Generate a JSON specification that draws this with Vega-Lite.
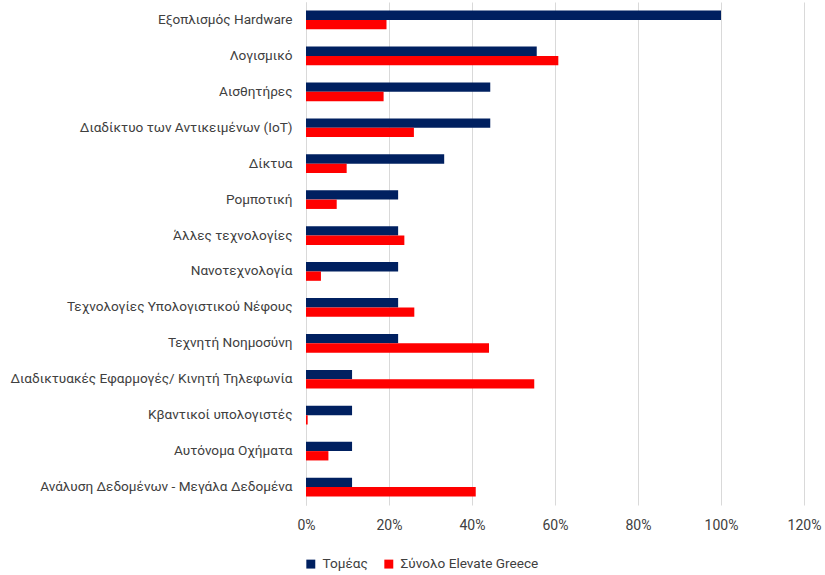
{
  "$schema": "https://vega.github.io/schema/vega-lite/v6.json",
  "width": 498,
  "height": 503,
  "autosize": {"type": "none"},
  "padding": {"left": 306, "top": 2, "right": 21, "bottom": 70},
  "background": "white",
  "config": {
    "view": {"stroke": null},
    "font": "Roboto",
    "axis": {"labelFont": "Roboto", "labelColor": "#404040"},
    "legend": {"labelFont": "Roboto", "labelColor": "#404040"}
  },
  "data": {
    "values": [
      {"category": "Εξοπλισμός Hardware", "series": "Τομέας", "value": 1.0},
      {"category": "Εξοπλισμός Hardware", "series": "Σύνολο Elevate Greece", "value": 0.194},
      {"category": "Λογισμικό", "series": "Τομέας", "value": 0.556},
      {"category": "Λογισμικό", "series": "Σύνολο Elevate Greece", "value": 0.608},
      {"category": "Αισθητήρες", "series": "Τομέας", "value": 0.444},
      {"category": "Αισθητήρες", "series": "Σύνολο Elevate Greece", "value": 0.187},
      {"category": "Διαδίκτυο των Αντικειμένων (IoT)", "series": "Τομέας", "value": 0.444},
      {"category": "Διαδίκτυο των Αντικειμένων (IoT)", "series": "Σύνολο Elevate Greece", "value": 0.26},
      {"category": "Δίκτυα ", "series": "Τομέας", "value": 0.333},
      {"category": "Δίκτυα ", "series": "Σύνολο Elevate Greece", "value": 0.098},
      {"category": "Ρομποτική", "series": "Τομέας", "value": 0.222},
      {"category": "Ρομποτική", "series": "Σύνολο Elevate Greece", "value": 0.074},
      {"category": "Άλλες τεχνολογίες", "series": "Τομέας", "value": 0.222},
      {"category": "Άλλες τεχνολογίες", "series": "Σύνολο Elevate Greece", "value": 0.237},
      {"category": "Νανοτεχνολογία", "series": "Τομέας", "value": 0.222},
      {"category": "Νανοτεχνολογία", "series": "Σύνολο Elevate Greece", "value": 0.036},
      {"category": "Τεχνολογίες Υπολογιστικού Νέφους", "series": "Τομέας", "value": 0.222},
      {"category": "Τεχνολογίες Υπολογιστικού Νέφους", "series": "Σύνολο Elevate Greece", "value": 0.261},
      {"category": "Τεχνητή Νοημοσύνη", "series": "Τομέας", "value": 0.222},
      {"category": "Τεχνητή Νοημοσύνη", "series": "Σύνολο Elevate Greece", "value": 0.441},
      {"category": "Διαδικτυακές Εφαρμογές/ Κινητή Τηλεφωνία", "series": "Τομέας", "value": 0.111},
      {"category": "Διαδικτυακές Εφαρμογές/ Κινητή Τηλεφωνία", "series": "Σύνολο Elevate Greece", "value": 0.55},
      {"category": "Κβαντικοί υπολογιστές", "series": "Τομέας", "value": 0.111},
      {"category": "Κβαντικοί υπολογιστές", "series": "Σύνολο Elevate Greece", "value": 0.004},
      {"category": "Αυτόνομα Οχήματα", "series": "Τομέας", "value": 0.111},
      {"category": "Αυτόνομα Οχήματα", "series": "Σύνολο Elevate Greece", "value": 0.054},
      {"category": "Ανάλυση Δεδομένων - Μεγάλα Δεδομένα", "series": "Τομέας", "value": 0.111},
      {"category": "Ανάλυση Δεδομένων - Μεγάλα Δεδομένα", "series": "Σύνολο Elevate Greece", "value": 0.409}
    ]
  },
  "mark": {"type": "bar", "orient": "horizontal"},
  "encoding": {
    "y": {
      "field": "category",
      "type": "nominal",
      "sort": null,
      "scale": {"paddingInner": 0.48, "paddingOuter": 0.24},
      "axis": {
        "title": null,
        "ticks": false,
        "labelPadding": 14,
        "labelFontSize": 13.6,
        "labelLimit": 400,
        "domainColor": "#d9d9d9",
        "grid": false
      }
    },
    "yOffset": {
      "field": "series",
      "type": "nominal",
      "sort": ["Τομέας", "Σύνολο Elevate Greece"],
      "scale": {"paddingInner": 0, "paddingOuter": 0}
    },
    "x": {
      "field": "value",
      "type": "quantitative",
      "scale": {"domain": [0, 1.2], "nice": false},
      "axis": {
        "title": null,
        "format": ".0%",
        "values": [0, 0.2, 0.4, 0.6, 0.8, 1.0, 1.2],
        "ticks": false,
        "domain": false,
        "grid": true,
        "gridColor": "#d9d9d9",
        "gridWidth": 1,
        "labelPadding": 13,
        "labelFontSize": 14,
        "labelFlush": false
      }
    },
    "color": {
      "field": "series",
      "type": "nominal",
      "sort": ["Τομέας", "Σύνολο Elevate Greece"],
      "scale": {"domain": ["Τομέας", "Σύνολο Elevate Greece"], "range": ["#002060", "#ff0000"]},
      "legend": {
        "title": null,
        "orient": "none",
        "direction": "horizontal",
        "legendX": -2,
        "legendY": 555,
        "padding": 0,
        "symbolType": "square",
        "symbolSize": 80,
        "symbolStrokeWidth": 0,
        "labelFontSize": 13.6,
        "columnPadding": 14,
        "labelOffset": 5
      }
    }
  }
}
